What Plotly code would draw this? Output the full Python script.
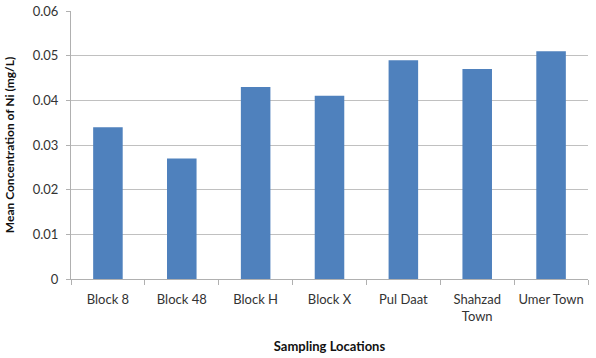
import plotly.graph_objects as go

categories = ["Block 8", "Block 48", "Block H", "Block X", "Pul Daat", "Shahzad<br>Town", "Umer Town"]
values = [0.034, 0.027, 0.043, 0.041, 0.049, 0.047, 0.051]
y_ticks = [0, 0.01, 0.02, 0.03, 0.04, 0.05, 0.06]
y_tick_labels = ["0", "0.01", "0.02", "0.03", "0.04", "0.05", "0.06"]

fig = go.Figure(go.Bar(x=categories, y=values, marker=dict(color="#4F81BD", line=dict(width=0))))

font_family = "Lato, Open Sans, sans-serif"
fig.update_layout(
    width=596, height=358,
    margin=dict(l=71, r=8, t=11, b=79),
    paper_bgcolor="white", plot_bgcolor="white",
    bargap=0.6,
    showlegend=False,
    font=dict(family=font_family, size=12, color="#222222"),
    xaxis=dict(
        title=dict(text="<b>Sampling Locations</b>", font=dict(size=13, color="#111111"), standoff=19),
        showline=True, linecolor="#B0B0B0", linewidth=1,
        ticks="outside", tickson="boundaries", ticklen=5, tickcolor="#B0B0B0",
        tickfont=dict(size=13, color="#333333"), tickangle=0, ticklabelstandoff=8,
        automargin=False,
    ),
    yaxis=dict(
        title=dict(text="<b>Mean Concentration of Ni (mg/L)</b>", font=dict(size=12, color="#111111"), standoff=15),
        range=[0, 0.06], tickvals=y_ticks, ticktext=y_tick_labels,
        showline=True, linecolor="#B0B0B0", linewidth=1,
        showgrid=True, gridcolor="#C0C0C0", gridwidth=1,
        ticks="outside", ticklen=4, tickcolor="#B0B0B0",
        tickfont=dict(size=13, color="#333333"), ticklabelstandoff=5,
        zeroline=False, automargin=False,
    ),
)

fig.write_html("out.html", config={"displayModeBar": False},
               post_script="document.body.style.margin='0';")
